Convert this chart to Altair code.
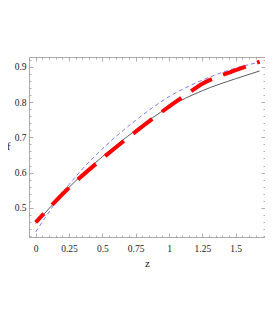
import altair as alt
import pandas as pd

# ---- data ----
z_black = [0, 0.25, 0.5, 0.75, 1.0, 1.25, 1.5, 1.68]
f_black = [0.456, 0.558, 0.645, 0.720, 0.786, 0.832, 0.866, 0.888]

z_blue = [0, 0.25, 0.5, 0.75, 1.0, 1.25, 1.5, 1.68]
f_blue = [0.432, 0.566, 0.667, 0.748, 0.815, 0.862, 0.896, 0.913]

z_red = [0, 0.25, 0.5, 0.75, 1.0, 1.125, 1.25, 1.375, 1.5, 1.68]
f_red = [0.459, 0.557, 0.640, 0.716, 0.787, 0.820, 0.852, 0.873, 0.890, 0.914]

x_ticks = [round(-0.05 + 0.05 * i, 2) for i in range(35)]
y_ticks = [round(0.42 + 0.02 * i, 2) for i in range(26)]

x_domain = [-0.05, 1.72]
y_domain = [0.4175, 0.9275]

black = pd.DataFrame({"z": z_black, "f": f_black})
blue = pd.DataFrame({"z": z_blue, "f": f_blue})
red = pd.DataFrame({"z": z_red, "f": f_red})

FONT = "Liberation Serif"
TICK_COLOR = "#999999"

x_major_test = "datum.value >= -0.001 && datum.value <= 1.51 && abs(datum.value*4 - round(datum.value*4)) < 1e-6"
y_major_test = "abs(datum.value*10 - round(datum.value*10)) < 1e-6"


def x_axis(orient, labels=True):
    kw = dict(
        orient=orient,
        values=x_ticks,
        domain=False,
        grid=False,
        tickColor=TICK_COLOR,
        tickWidth=0.8,
        tickSize={"condition": {"test": x_major_test, "value": -4}, "value": -2},
        labels=labels,
        labelFont=FONT,
        labelFontSize=9.5,
        labelColor="#222222",
        labelPadding=10,
        labelExpr="(" + x_major_test + ") ? format(datum.value, '~g') : ''",
        labelOverlap=False,
        labelFlush=False,
        labelBound=False,
    )
    if labels:
        kw.update(title="z", titleFont=FONT, titleFontSize=11, titleFontWeight="normal",
                  titleColor="#222222", titleY=26, titleBaseline="middle")
    else:
        kw.update(title=None)
    return alt.Axis(**kw)


def y_axis(orient, labels=True):
    kw = dict(
        orient=orient,
        values=y_ticks,
        domain=False,
        grid=False,
        tickColor=TICK_COLOR,
        tickWidth=0.8,
        tickSize={"condition": {"test": y_major_test, "value": -4}, "value": -2},
        labels=labels,
        labelFont=FONT,
        labelFontSize=9.5,
        labelColor="#222222",
        labelPadding=7,
        labelExpr="(" + y_major_test + ") ? format(datum.value, '~g') : ''",
        labelOverlap=False,
        labelFlush=False,
        labelBound=False,
    )
    if labels:
        kw.update(title="f", titleFont=FONT, titleFontSize=11, titleFontWeight="normal",
                  titleColor="#222222", titleAngle=0, titleX=-21, titleY=89,
                  titleAlign="center", titleBaseline="middle")
    else:
        kw.update(title=None)
    return alt.Axis(**kw)


xs = alt.Scale(domain=x_domain, nice=False, zero=False)
ys = alt.Scale(domain=y_domain, nice=False, zero=False)


def enc(chart):
    return chart.encode(
        x=alt.X("z:Q", scale=xs, axis=x_axis("bottom")),
        y=alt.Y("f:Q", scale=ys, axis=y_axis("left")),
    )


black_line = enc(alt.Chart(black).mark_line(
    color="#333333", strokeWidth=0.8, interpolate="monotone"
))

blue_line = enc(alt.Chart(blue).mark_line(
    color="#6a6aff", strokeWidth=0.9, strokeDash=[4, 3], interpolate="monotone"
))

red_line = enc(alt.Chart(red).mark_line(
    color="#ff0000", strokeWidth=4, strokeDash=[24, 12], strokeDashOffset=12,
    strokeCap="butt", interpolate="monotone"
))

lines = alt.layer(black_line, blue_line, red_line)

frame_axes = alt.Chart(black).mark_line(opacity=0).encode(
    x=alt.X("z:Q", scale=xs, axis=x_axis("top", labels=False)),
    y=alt.Y("f:Q", scale=ys, axis=y_axis("right", labels=False)),
)

chart = alt.layer(lines, frame_axes).resolve_axis(
    x="independent", y="independent"
).properties(
    width=236,
    height=180,
    autosize=alt.AutoSizeParams(type="none"),
    padding={"left": 21, "top": 49, "right": 0, "bottom": 40},
    background="white",
).configure_view(stroke="#aaaaaa", strokeWidth=1).configure_axis(labelOverlap=False)

chart.save("out.html", embed_options={"renderer": "svg", "actions": False})
